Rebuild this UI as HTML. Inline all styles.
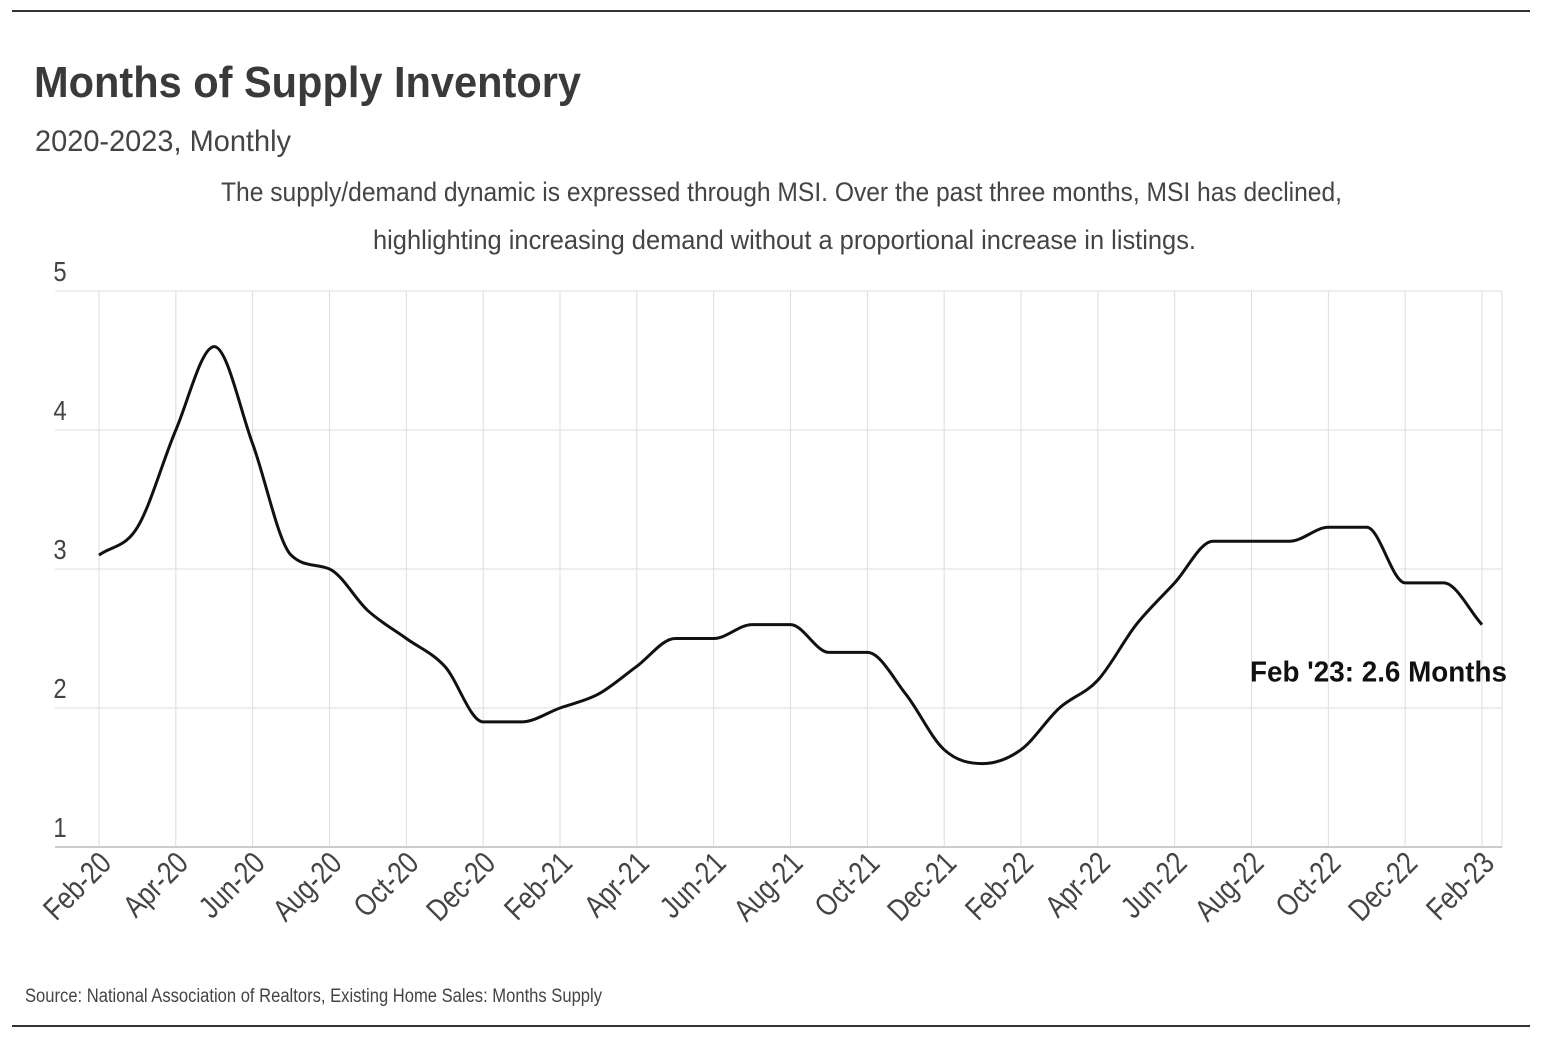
<!DOCTYPE html>
<html><head><meta charset="utf-8">
<style>
body{margin:0;background:#fff;width:1542px;height:1042px;overflow:hidden;font-family:"Liberation Sans Narrow","Liberation Sans",sans-serif;}
svg text{font-family:"Liberation Sans Narrow","Liberation Sans",sans-serif;}
</style></head><body>
<svg width="1542" height="1042" xmlns="http://www.w3.org/2000/svg">
<line x1="12" y1="11" x2="1530" y2="11" stroke="#333" stroke-width="2"/>
<line x1="12" y1="1026" x2="1530" y2="1026" stroke="#333" stroke-width="2"/>
<text x="34" y="97" font-size="44" font-weight="bold" fill="#3a3a3a" textLength="547" lengthAdjust="spacingAndGlyphs">Months of Supply Inventory</text>
<text x="35" y="151" font-size="30" fill="#444" textLength="256" lengthAdjust="spacingAndGlyphs">2020-2023, Monthly</text>
<text x="221" y="201" font-size="27" fill="#444" textLength="1121" lengthAdjust="spacingAndGlyphs">The supply/demand dynamic is expressed through MSI. Over the past three months, MSI has declined,</text>
<text x="373" y="249" font-size="27" fill="#444" textLength="823" lengthAdjust="spacingAndGlyphs">highlighting increasing demand without a proportional increase in listings.</text>
<g id="grid"></g>
<g id="yaxis"></g>
<g id="xaxis"></g>
<path id="line" fill="none" stroke="#111" stroke-width="3"/>
<text id="endlabel" font-size="29" font-weight="bold" fill="#111" textLength="257" lengthAdjust="spacingAndGlyphs">Feb '23: 2.6 Months</text>
<text x="25" y="1002" font-size="19" fill="#444" textLength="577" lengthAdjust="spacingAndGlyphs">Source:  National Association of Realtors, Existing Home Sales: Months Supply</text>
</svg>
<script>
const months = ["Feb-20","Mar-20","Apr-20","May-20","Jun-20","Jul-20","Aug-20","Sep-20","Oct-20","Nov-20","Dec-20","Jan-21","Feb-21","Mar-21","Apr-21","May-21","Jun-21","Jul-21","Aug-21","Sep-21","Oct-21","Nov-21","Dec-21","Jan-22","Feb-22","Mar-22","Apr-22","May-22","Jun-22","Jul-22","Aug-22","Sep-22","Oct-22","Nov-22","Dec-22","Jan-23","Feb-23"];
const msi = [3.1,3.3,4.0,4.6,3.9,3.1,3.0,2.7,2.5,2.3,1.9,1.9,2.0,2.1,2.3,2.5,2.5,2.6,2.6,2.4,2.4,2.1,1.7,1.6,1.7,2.0,2.2,2.6,2.9,3.2,3.2,3.2,3.3,3.3,2.9,2.9,2.6];
const yTicks = [1,2,3,4,5];
const NS="http://www.w3.org/2000/svg";
const x0=99,x1=1482,yb=847,yt=291,ymin=1,ymax=5;
const xs=i=>x0+(x1-x0)*i/(months.length-1);
const ys=v=>yb-(yb-yt)*(v-ymin)/(ymax-ymin);
function mk(t,a,p){const e=document.createElementNS(NS,t);for(const k in a)e.setAttribute(k,a[k]);p.appendChild(e);return e;}
const grid=document.getElementById('grid'),ya=document.getElementById('yaxis'),xa=document.getElementById('xaxis');
yTicks.forEach(v=>{
  if(v>ymin){const l=mk('line',{x1:55,x2:1502,y1:ys(v),y2:ys(v),stroke:'#ddd','stroke-width':1},grid);
  
  }
  const t=mk('text',{x:60,y:ys(v)-10,'font-size':28,fill:'#444','text-anchor':'middle',transform:`translate(60,0) scale(0.85,1) translate(-60,0)`},ya);
  t.textContent=v;
  
  
});
mk('line',{x1:1502,x2:1502,y1:yt,y2:yb,stroke:'#ddd'},grid);
months.forEach((m,i)=>{
  if(i%2)return;
  const x=xs(i);
  const l=mk('line',{x1:x,x2:x,y1:yt,y2:yb,stroke:'#ddd','stroke-width':1},grid);
  
  
  const t=mk('text',{transform:`translate(${x+14},${yb+18}) rotate(-45) scale(0.82,1)`,'font-size':31,fill:'#444','text-anchor':'end'},xa);
  t.textContent=m;
  
  
});
const ax=mk('line',{x1:55,x2:1502,y1:yb,y2:yb,stroke:'#ccc','stroke-width':2},grid);


const P=msi.map((v,i)=>[xs(i),ys(v)]);const n=P.length;
const d=[],m=[];
for(let i=0;i<n-1;i++)d.push((P[i+1][1]-P[i][1])/(P[i+1][0]-P[i][0]));
m[0]=d[0];m[n-1]=d[n-2];
for(let i=1;i<n-1;i++){m[i]=(d[i-1]*d[i]<=0)?0:(d[i-1]+d[i])/2;}
for(let i=0;i<n-1;i++){if(d[i]===0){m[i]=0;m[i+1]=0;continue;}const a=m[i]/d[i],b=m[i+1]/d[i],s=a*a+b*b;if(s>9){const t=3/Math.sqrt(s);m[i]=t*a*d[i];m[i+1]=t*b*d[i];}}
let path=`M${P[0][0]},${P[0][1]}`;
for(let i=0;i<n-1;i++){const h=(P[i+1][0]-P[i][0])/3;path+=` C${P[i][0]+h},${P[i][1]+m[i]*h} ${P[i+1][0]-h},${P[i+1][1]-m[i+1]*h} ${P[i+1][0]},${P[i+1][1]}`;}
document.getElementById('line').setAttribute('d',path);
const el=document.getElementById('endlabel');
el.setAttribute('x',1250);el.setAttribute('y',ys(msi[n-1])+57);
</script>
</body></html>
